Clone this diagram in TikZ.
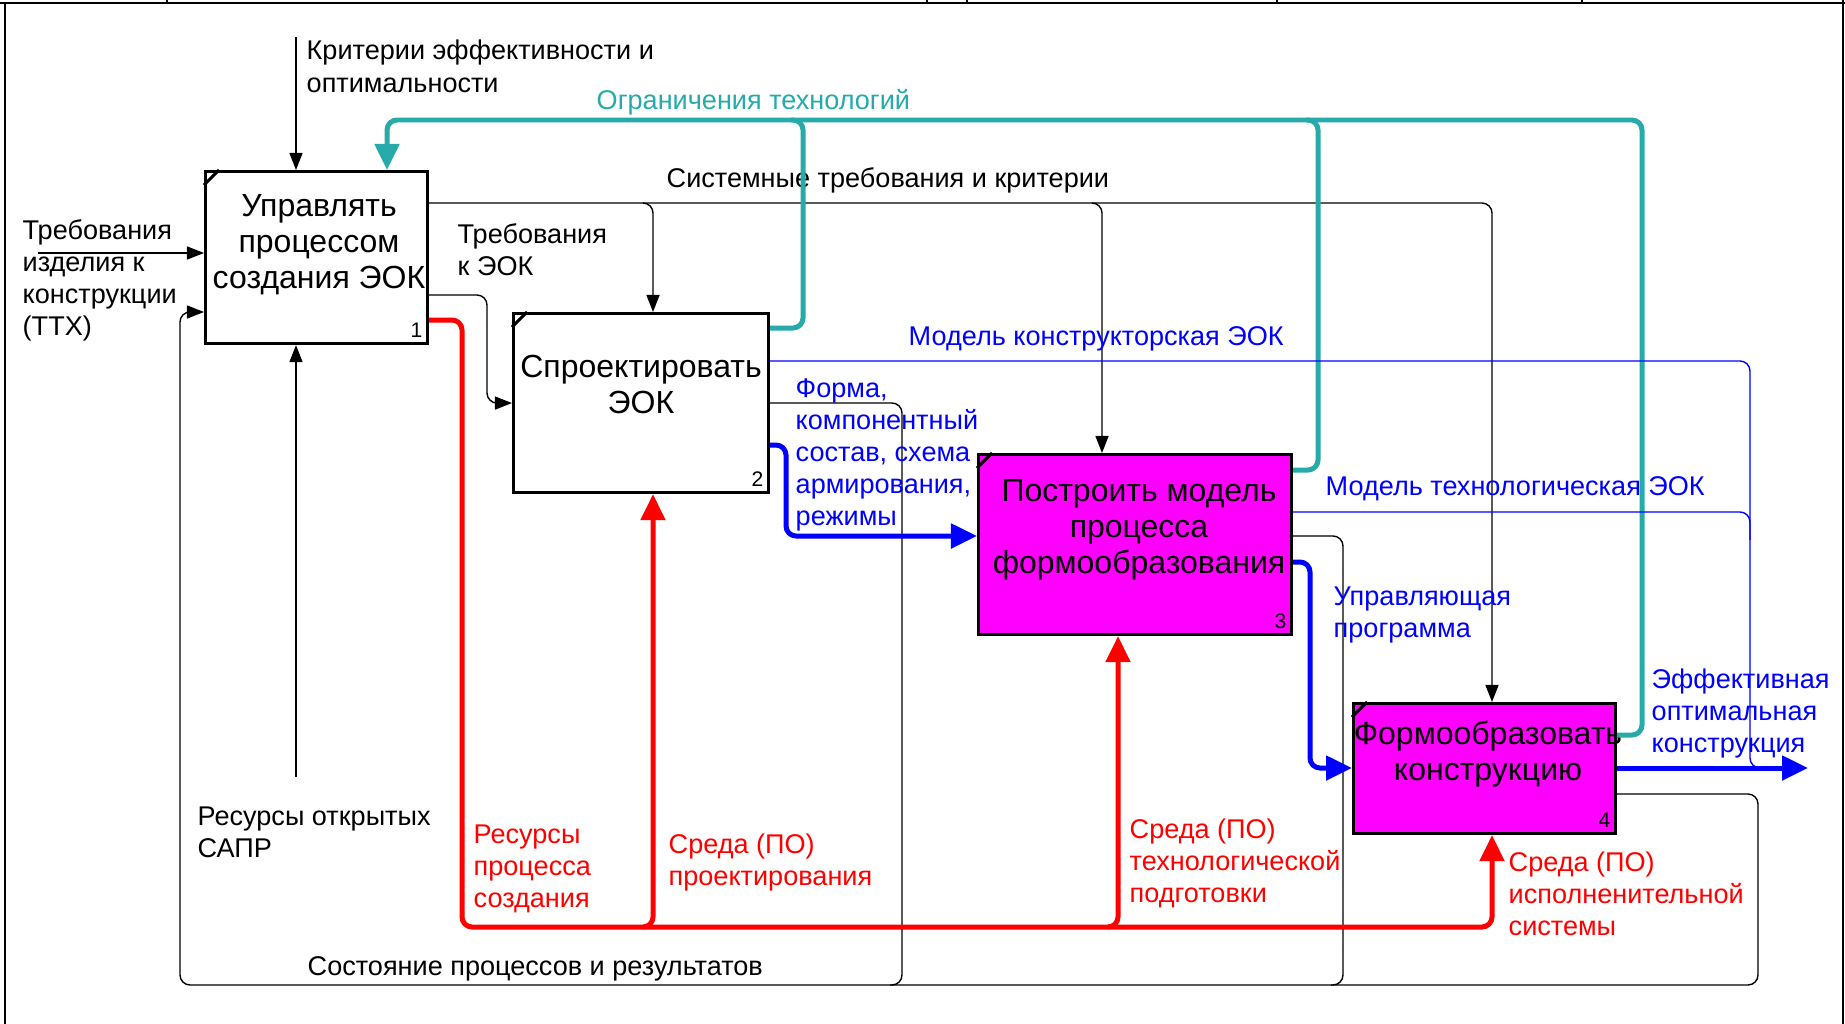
\documentclass[tikz,border=0pt]{standalone}
\usepackage{fontspec}
\setmainfont{Liberation Sans}
\usetikzlibrary{arrows.meta}
\definecolor{tealline}{RGB}{38,170,170}
\definecolor{procfill}{RGB}{255,0,255}
\begin{document}
\begin{tikzpicture}[
                    x=0.01cm, y=-0.01cm,
                    >={Triangle[length=0.17cm,width=0.13cm]},
                    proc/.style={draw, line width=0.85pt, rectangle, anchor=north west, inner sep=0pt},
                    proctext/.style={align=center, anchor=base, inner sep=0pt, font=\fontsize{9.1}{10.2}\selectfont},
                    num/.style={anchor=base east, inner sep=0pt, font=\fontsize{6}{7}\selectfont},
                    lbl/.style={align=left, anchor=base west, inner sep=0pt, font=\fontsize{7.7}{9.1}\selectfont},
                    arr/.style={line width=0.4pt, rounded corners=0.1cm},
                    fat/.style={line width=1.42pt, rounded corners=0.1cm},
                    fatarr/.style={fat, -{Triangle[length=0.26cm,width=0.24cm]}}
                    ]
        \useasboundingbox (0,0) rectangle (1845,1024);

        \draw[line width=0.45pt] (0,3) -- (1845,3);
        \foreach \x in {167,927,967,1277,1582}
            \draw[line width=0.45pt] (\x,0) -- (\x,3);
        \draw[line width=0.45pt] (5,3) -- (5,1024);
        \draw[line width=0.45pt] (1843,0) -- (1843,1024);

        \node [proc, minimum width=2.22cm, minimum height=1.72cm] (b1) at (204,170) {};
        \node [proc, minimum width=2.55cm, minimum height=1.79cm] (b2) at (512,312) {};
        \node [proc, fill=procfill, minimum width=3.13cm, minimum height=1.80cm] (b3) at (977,453) {};
        \node [proc, fill=procfill, minimum width=2.62cm, minimum height=1.30cm] (b4) at (1352,702) {};
        \foreach \b/\n in {b1/1,b2/2,b3/3,b4/4} {
            \draw[line width=0.85pt] ([yshift=-0.15cm]\b.north west) -- ([xshift=0.15cm]\b.north west);
            \node [num] at ([xshift=-0.06cm,yshift=0.08cm]\b.south east) {\n};
        }
        \node [proctext] (t1) at (319,288) {Управлять\\процессом\\создания ЭОК};
        \node [proctext] (t2) at (641,413) {Спроектировать\\ЭОК};
        \node [proctext] (t3) at (1139,573) {Построить модель\\процесса\\формообразования};
        \node [proctext] (t4) at (1488,780) {Формообразовать\\конструкцию};

        \coordinate (critIn) at (296,37);
        \draw[arr,->] (critIn) -- (critIn |- b1.north);
        \node [lbl] (critL) at (306,92) {Критерии эффективности и\\оптимальности};

        \coordinate (reqIn) at (38,253);
        \draw[arr,->] (reqIn) -- (reqIn -| b1.west);
        \node [lbl] (reqL) at (22,335) {Требования\\изделия к\\конструкции\\(ТТХ)};

        \coordinate (cadIn) at (296,777);
        \draw[arr,->] (cadIn) -- (cadIn |- b1.south);
        \node [lbl] (cadL) at (197,857) {Ресурсы открытых\\САПР};

        \coordinate (sysA) at (653,203);
        \coordinate (sysB) at (1102,203);
        \coordinate (sysC) at (1492,203);
        \draw[arr,->] (b1.east |- sysA) -| (sysC |- b4.north);
        \draw[arr,->] ([xshift=-0.1cm]sysA) -| (sysA |- b2.north);
        \draw[arr,->] ([xshift=-0.1cm]sysB) -| (sysB |- b3.north);
        \node [lbl] (sysL) at (666,187) {Системные требования и критерии};

        \draw[arr,->] (b1.east |- 0,295) -| (487,350) |- (b2.west);
        \node [lbl] (specL) at (457,275) {Требования\\к ЭОК};

        \draw[arr,->] (b4.east |- 0,794) -| (1758,985) -| (180,312) -- (b1.west |- 0,312);
        \draw[arr] (b2.east |- 0,403) -| (902,985) -- (890,985);
        \draw[arr] (b3.east |- 0,536) -| (1343,985) -- (1331,985);
        \node [lbl] (stateL) at (307,975) {Состояние процессов и результатов};

        \coordinate (envA) at (653,927);
        \coordinate (envB) at (1118,927);
        \coordinate (envC) at (1492,927);
        \draw[fatarr, red] (b1.east |- 0,320) -| (462,927) -| (envC |- b4.south);
        \draw[fatarr, red] ([xshift=-0.1cm]envA) -| (envA |- b2.south);
        \draw[fatarr, red] ([xshift=-0.1cm]envB) -| (envB |- b3.south);
        \node [lbl, red] (resL) at (473,907) {Ресурсы\\процесса\\создания};
        \node [lbl, red] (envAL) at (668,885) {Среда (ПО)\\проектирования};
        \node [lbl, red] (envBL) at (1129,902) {Среда (ПО)\\технологической\\подготовки};
        \node [lbl, red] (envCL) at (1508,935) {Среда (ПО)\\исполненительной\\системы};

        \coordinate (limIn) at (387,120);
        \draw[fatarr, tealline] (b4.east |- 0,735) -| (1642,120) -| (limIn |- b1.north);
        \draw[fat, tealline] (b2.east |- 0,328) -| (803,120) -- (791,120);
        \draw[fat, tealline] (b3.east |- 0,470) -| (1318,120) -- (1306,120);
        \node [lbl, text=tealline] (limL) at (596,110) {Ограничения технологий};

        \coordinate (effOut) at (1808,768);
        \draw[fatarr, blue] (b2.east |- 0,445) -| (786,536) -- (b3.west |- 0,536);
        \draw[fatarr, blue] (b3.east |- 0,562) -| (1310,768) -- (b4.west |- 0,768);
        \draw[fatarr, blue] (b4.east |- effOut) -- (effOut);
        \draw[arr, blue] (b2.east |- 0,361) -| (1750,768) -- (1765,768);
        \draw[arr, blue] (b3.east |- 0,512) -| (1750,540);
        \node [lbl, blue] (formL) at (795,525) {Форма,\\компонентный\\состав, схема\\армирования,\\режимы};
        \node [lbl, blue] (progL) at (1333,637) {Управляющая\\программа};
        \node [lbl, blue] (effL) at (1651,752) {Эффективная\\оптимальная\\конструкция};
        \node [lbl, blue] (desL) at (908,345) {Модель конструкторская ЭОК};
        \node [lbl, blue] (techL) at (1325,495) {Модель технологическая ЭОК};
\end{tikzpicture}
\end{document}
